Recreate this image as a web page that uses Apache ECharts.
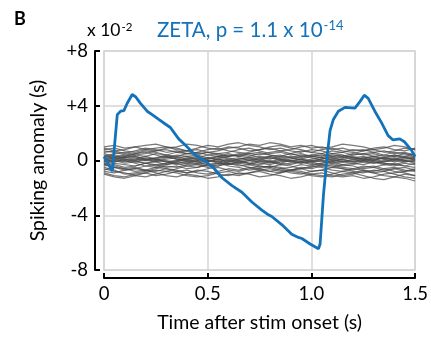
<!DOCTYPE html>
<html>
<head>
<meta charset="utf-8">
<script src="https://cdn.jsdelivr.net/npm/echarts@6/dist/echarts.min.js"></script>
<style>html,body{margin:0;padding:0;background:#fff;}#c{width:431px;height:338px;}</style>
</head>
<body>
<div id="c"></div>
<script>
// x-axis ticks / labels
const xTicks = [0, 0.5, 1.0, 1.5];
const xTickLabels = ['0', '0.5', '1.0', '1.5'];
const yTicks = [-8, -4, 0, 4, 8];
const yTickLabels = ['-8', '-4', '0', '+4', '+8'];

// ZETA (blue) trace: time (s) and value (x 10^-2 s)
const zetaT = [0,0.04,0.064,0.08,0.096,0.112,0.136,0.152,0.176,0.208,0.232,0.264,0.297,0.32,0.36,0.393,0.44,0.489,0.529,0.569,0.617,0.665,0.697,0.713,0.761,0.793,0.809,0.857,0.905,0.9375,0.954,0.994,1.034,1.042,1.058,1.074,1.09,1.106,1.13,1.162,1.21,1.234,1.255,1.274,1.306,1.338,1.37,1.394,1.426,1.45,1.482,1.5];
const zetaV = [0.28,-0.78,3.35,3.6,3.64,4.18,4.82,4.66,4.18,3.6,3.35,3.0,2.65,2.41,1.58,1.11,0.4,-0.07,-0.55,-1.26,-1.84,-2.32,-2.79,-3.03,-3.62,-3.97,-4.09,-4.68,-5.39,-5.62,-5.7,-6.1,-6.45,-6.1,-2.55,0.05,2.18,3.0,3.6,3.88,3.83,4.3,4.77,4.54,3.6,2.77,1.82,1.5,1.58,1.35,0.76,0.28];

// shuffled-control (gray) traces, sampled every 0.05 s
const nullT = [0,0.05,0.1,0.15,0.2,0.25,0.3,0.35,0.4,0.45,0.5,0.55,0.6,0.65,0.7,0.75,0.8,0.85,0.9,0.95,1.0,1.05,1.1,1.15,1.2,1.25,1.3,1.35,1.4,1.45,1.5];
const null01 = [0.3,0.5,0.6,0.4,0.5,0.7,0.8,0.6,0.5,0.6,0.8,0.9,0.7,0.6,0.5,0.4,0.6,0.7,0.5,0.3,0.4,0.5,0.3,0.2,0.4,0.5,0.6,0.4,0.3,0.5,0.4];
const null02 = [-0.2,-0.4,-0.6,-0.5,-0.7,-0.8,-0.6,-0.7,-0.9,-0.8,-0.6,-0.5,-0.7,-0.8,-0.6,-0.4,-0.5,-0.7,-0.9,-1.0,-0.8,-0.7,-0.9,-1.1,-1.0,-0.8,-0.9,-1.1,-1.2,-1.0,-1.1];
const null03 = [0.8,0.9,0.7,0.6,0.8,0.9,1.0,0.8,0.7,0.5,0.6,0.4,0.3,0.5,0.4,0.2,0.3,0.1,0.2,0.4,0.3,0.2,0.0,0.1,-0.1,0.0,0.2,0.1,-0.1,0.0,0.1];
const null04 = [-0.5,-0.7,-1.0,-0.9,-0.8,-0.6,-0.4,-0.5,-0.3,-0.2,-0.4,-0.3,-0.1,0.0,-0.2,-0.3,-0.1,0.1,0.0,-0.2,-0.1,0.1,0.2,0.0,-0.1,0.1,0.3,0.2,0.0,0.1,0.2];
const null05 = [0.1,0.0,-0.2,-0.1,0.1,0.2,0.4,0.6,0.7,0.9,1.1,1.0,1.2,1.3,1.1,1.0,0.8,0.9,0.7,0.6,0.8,0.7,0.5,0.6,0.8,0.7,0.9,1.0,0.8,0.7,0.9];
const null06 = [-0.9,-1.1,-1.2,-1.0,-0.9,-1.1,-1.0,-0.8,-0.9,-0.7,-0.8,-1.0,-1.1,-0.9,-1.0,-1.2,-1.1,-0.9,-0.7,-0.6,-0.8,-0.7,-0.5,-0.6,-0.8,-0.9,-0.7,-0.8,-1.0,-1.2,-1.3];
const null07 = [0.5,0.3,0.2,0.4,0.3,0.1,0.0,-0.2,-0.1,0.1,0.0,-0.2,-0.3,-0.1,-0.2,-0.4,-0.5,-0.3,-0.4,-0.6,-0.5,-0.3,-0.4,-0.6,-0.7,-0.5,-0.4,-0.6,-0.5,-0.7,-0.8];
const null08 = [-0.1,0.1,0.3,0.2,0.0,0.1,-0.1,0.0,0.2,0.3,0.1,0.2,0.4,0.3,0.5,0.6,0.4,0.3,0.5,0.7,0.6,0.8,0.9,0.7,0.6,0.4,0.5,0.3,0.4,0.2,0.3];
const null09 = [1.0,1.1,0.9,1.0,0.8,0.7,0.9,1.0,1.2,1.1,0.9,0.8,1.0,0.9,0.7,0.8,1.0,1.1,0.9,0.8,0.6,0.5,0.7,0.6,0.4,0.5,0.3,0.4,0.6,0.5,0.3];
const null10 = [-0.4,-0.3,-0.5,-0.4,-0.2,-0.3,-0.5,-0.4,-0.6,-0.5,-0.3,-0.4,-0.2,-0.3,-0.5,-0.7,-0.6,-0.8,-0.7,-0.5,-0.6,-0.4,-0.5,-0.3,-0.4,-0.6,-0.5,-0.3,-0.4,-0.2,-0.3];
const null11 = [0.2,0.4,0.3,0.5,0.7,0.6,0.4,0.3,0.1,0.2,0.0,-0.1,0.1,0.2,0.0,0.1,0.3,0.4,0.2,0.1,-0.1,0.0,-0.2,-0.1,0.1,0.2,0.0,-0.2,-0.3,-0.1,0.0];
const null12 = [-0.7,-0.5,-0.6,-0.8,-0.7,-0.9,-1.1,-1.2,-1.0,-1.1,-1.3,-1.2,-1.0,-1.1,-0.9,-0.8,-1.0,-1.1,-1.3,-1.2,-1.0,-1.1,-1.2,-1.0,-0.9,-1.1,-1.3,-1.4,-1.2,-1.3,-1.5];
const null13 = [0.0,-0.1,0.1,0.0,-0.2,-0.1,0.1,0.2,0.0,-0.1,0.1,0.3,0.2,0.0,0.1,-0.1,-0.2,0.0,0.1,0.3,0.2,0.0,-0.1,0.1,0.2,0.0,-0.2,-0.1,0.1,0.0,-0.1];
const null14 = [0.6,0.7,0.5,0.7,0.9,0.8,0.6,0.7,0.5,0.4,0.6,0.7,0.9,1.0,1.2,1.1,1.3,1.2,1.0,1.1,0.9,1.0,0.8,0.9,0.7,0.8,0.6,0.7,0.5,0.6,0.4];
const null15 = [-0.3,-0.5,-0.7,-0.6,-0.4,-0.5,-0.3,-0.1,-0.2,0.0,-0.1,0.1,0.0,-0.2,-0.3,-0.1,0.0,-0.2,-0.3,-0.1,-0.2,-0.4,-0.3,-0.5,-0.6,-0.4,-0.5,-0.7,-0.6,-0.8,-0.7];
const null16 = [0.4,0.2,0.0,0.1,0.3,0.5,0.4,0.2,0.3,0.1,0.2,0.0,-0.2,-0.4,-0.3,-0.5,-0.4,-0.6,-0.5,-0.3,-0.4,-0.2,-0.1,-0.3,-0.2,0.0,0.1,-0.1,0.0,0.2,0.1];
const null17 = [-0.8,-0.9,-0.7,-0.6,-0.7,-0.5,-0.6,-0.8,-0.7,-0.9,-1.0,-0.8,-0.6,-0.7,-0.5,-0.6,-0.4,-0.5,-0.7,-0.8,-1.0,-0.9,-1.1,-1.2,-1.1,-1.3,-1.2,-1.0,-0.9,-0.8,-0.6];
const null18 = [0.7,0.6,0.4,0.5,0.6,0.4,0.2,0.3,0.5,0.6,0.4,0.5,0.3,0.4,0.6,0.8,0.9,0.7,0.8,1.0,1.1,0.9,1.0,1.2,1.1,1.0,0.8,0.9,1.1,1.0,0.8];
const null19 = [-0.6,-0.8,-0.9,-1.1,-0.9,-0.7,-0.8,-0.6,-0.4,-0.5,-0.3,-0.2,-0.4,-0.5,-0.7,-0.6,-0.8,-0.9,-0.7,-0.6,-0.4,-0.5,-0.7,-0.8,-0.6,-0.7,-0.9,-0.8,-0.6,-0.5,-0.7];
const null20 = [0.1,0.3,0.2,0.3,0.1,-0.1,-0.3,-0.2,-0.4,-0.3,-0.1,0.1,0.3,0.4,0.3,0.5,0.4,0.2,0.3,0.2,0.4,0.3,0.5,0.4,0.2,0.3,0.1,0.2,0.4,0.3,0.5];
const null21 = [-0.2,-0.1,0.0,-0.2,-0.4,-0.3,-0.2,0.0,0.1,0.0,0.2,0.3,0.1,-0.1,-0.2,0.0,0.2,0.1,-0.1,-0.2,0.0,0.1,0.3,0.4,0.2,0.1,-0.1,-0.3,-0.2,-0.4,-0.5];
const null22 = [0.9,0.7,0.8,1.0,1.1,1.2,1.0,0.9,0.7,0.8,0.6,0.5,0.6,0.8,0.9,0.7,0.5,0.6,0.4,0.5,0.3,0.4,0.2,0.3,0.5,0.7,0.8,0.6,0.7,0.9,0.8];
const null23 = [-1.0,-1.2,-1.3,-1.1,-1.2,-1.0,-0.8,-0.9,-1.1,-1.2,-1.1,-0.9,-0.8,-1.0,-0.9,-0.7,-0.8,-0.6,-0.8,-0.9,-1.1,-1.2,-1.0,-0.8,-0.9,-0.7,-0.8,-0.6,-0.8,-0.9,-1.1];
const null24 = [0.2,0.1,-0.1,0.0,0.2,0.1,0.3,0.1,-0.1,-0.2,0.0,-0.1,-0.3,-0.2,0.0,0.2,0.1,0.3,0.2,0.0,-0.1,-0.3,-0.2,-0.4,-0.3,-0.1,-0.2,0.0,0.1,-0.1,0.0];
const null25 = [-0.1,0.0,0.2,0.1,0.0,0.2,0.3,0.1,0.0,-0.1,-0.3,-0.2,0.0,0.1,0.2,0.0,-0.1,-0.3,-0.2,-0.1,0.1,0.2,0.1,-0.1,0.0,0.2,0.3,0.1,0.2,0.0,-0.2];
const null26 = [0.3,0.2,0.4,0.3,0.1,0.0,0.2,0.4,0.3,0.4,0.2,0.1,-0.1,0.1,0.2,0.3,0.2,0.0,-0.1,0.1,0.0,-0.1,0.1,0.2,0.3,0.1,0.0,0.2,0.3,0.2,0.1];
const null27 = [-0.3,-0.2,-0.3,-0.4,-0.2,0.0,-0.1,-0.3,-0.2,-0.3,-0.5,-0.4,-0.2,-0.1,0.0,-0.2,-0.3,-0.1,0.0,-0.1,-0.3,-0.2,0.0,-0.1,-0.2,-0.3,-0.1,-0.2,-0.3,-0.4,-0.2];
const null28 = [0.0,0.2,0.1,-0.1,-0.2,-0.4,-0.2,-0.1,0.1,0.2,0.4,0.3,0.5,0.3,0.2,0.1,-0.1,-0.2,0.0,0.1,0.3,0.2,0.4,0.3,0.1,-0.1,0.0,0.2,0.1,0.3,0.2];
const nullTraces = [null01,null02,null03,null04,null05,null06,null07,null08,null09,null10,null11,null12,null13,null14,null15,null16,null17,null18,null19,null20,null21,null22,null23,null24,null25,null26,null27,null28];

const FONT = 'Lato';
const BLUE = '#1272BA';

const pair = (ts, vs) => ts.map((t, i) => [t, vs[i]]);

const series = nullTraces.map((tr) => ({
  type: 'line', data: pair(nullT, tr), showSymbol: false, silent: true,
  lineStyle: { color: 'rgba(70,70,70,0.72)', width: 1.2 }, z: 2
}));
series.push({
  type: 'line', data: pair(zetaT, zetaV), showSymbol: false, silent: true,
  lineStyle: { color: BLUE, width: 2.8 }, z: 5
});

const chart = echarts.init(document.getElementById('c'), null, { renderer: 'canvas' });
chart.setOption({
  animation: false,
  backgroundColor: '#fff',
  title: [
    { text: 'B', left: 9, top: 5, textStyle: { fontFamily: FONT, fontWeight: 'bold', fontSize: 18, color: '#000' } },
    { text: '{a|x 10}{b|-2}', left: 82, top: 16,
      textStyle: { fontWeight: 'normal', rich: {
        a: { fontFamily: FONT, fontSize: 17.5, fontWeight: 'normal', color: '#000' },
        b: { fontFamily: FONT, fontSize: 11.5, fontWeight: 'normal', color: '#000', verticalAlign: 'top', padding: [0,0,7,1] } } } },
    { text: '{a|ZETA, p = 1.1 x 10}{b|-14}', left: 152, top: 14,
      textStyle: { fontWeight: 'normal', rich: {
        a: { fontFamily: FONT, fontSize: 20.5, fontWeight: 'normal', color: BLUE },
        b: { fontFamily: FONT, fontSize: 13, fontWeight: 'normal', color: BLUE, verticalAlign: 'top', padding: [0,0,9,1] } } } }
  ],
  grid: { left: 104, right: 14, top: 51, bottom: 61, show: true, borderColor: '#d4d4d4', borderWidth: 1.5, containLabel: false },
  xAxis: {
    type: 'value', min: 0, max: 1.5, interval: 0.5, offset: 8,
    axisLine: { show: true, onZero: false, lineStyle: { color: '#000', width: 2 } },
    axisTick: { show: true, inside: true, length: 5, lineStyle: { color: '#000', width: 2 } },
    axisLabel: { fontFamily: FONT, fontSize: 18.5, color: '#000', margin: 7,
      formatter: (v) => { const i = xTicks.findIndex(t => Math.abs(t - v) < 1e-9); return i >= 0 ? xTickLabels[i] : ''; } },
    splitLine: { show: true, lineStyle: { color: '#d4d4d4', width: 1.5 } },
    name: 'Time after stim onset (s)', nameLocation: 'middle', nameGap: 35,
    nameTextStyle: { fontFamily: FONT, fontSize: 19.5, color: '#000' }
  },
  yAxis: {
    type: 'value', min: -8, max: 8, interval: 4, offset: 9,
    axisLine: { show: true, onZero: false, lineStyle: { color: '#000', width: 2 } },
    axisTick: { show: true, inside: true, length: 5, lineStyle: { color: '#000', width: 2 } },
    axisLabel: { fontFamily: FONT, fontSize: 18.5, color: '#000', margin: 7,
      formatter: (v) => { const i = yTicks.findIndex(t => Math.abs(t - v) < 1e-9); return i >= 0 ? yTickLabels[i] : ''; } },
    splitLine: { show: true, lineStyle: { color: '#d4d4d4', width: 1.5 } },
    name: 'Spiking anomaly (s)', nameLocation: 'middle', nameGap: 47,
    nameTextStyle: { fontFamily: FONT, fontSize: 19.5, color: '#000' }
  },
  series: series
});
</script>
</body>
</html>
